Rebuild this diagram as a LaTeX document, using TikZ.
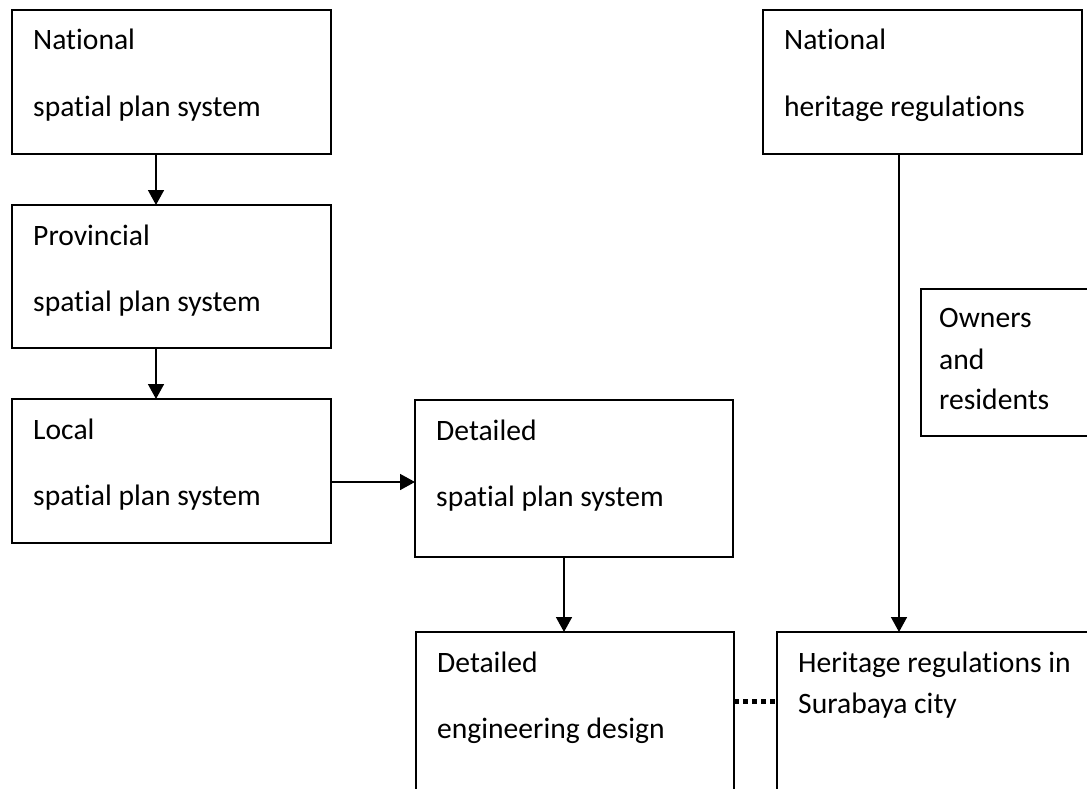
\documentclass[tikz,border=0pt]{standalone}
\usepackage{fontspec}
\setmainfont[Ligatures={NoCommon}]{Carlito}
\usetikzlibrary{arrows.meta}
\begin{document}
\begin{tikzpicture}[x=1pt,y=-1pt,
  box/.style={draw, line width=1.8pt, rectangle, inner sep=0pt, outer sep=0pt, anchor=north west},
  txt/.style={anchor=base west, inner sep=0pt, font=\fontsize{29.6}{35}\selectfont},
  arr/.style={line width=1.6pt, -{Triangle[length=15pt,width=16pt]}},
  dots/.style={line width=5pt, dash pattern=on 5pt off 4pt}]
\useasboundingbox (0,0) rectangle (1087,789);
\clip (0,0) rectangle (1087,789);

% planning chain
\node[box, minimum width=319pt, minimum height=144pt] (nsp) at (12,10) {};
\node[box, minimum width=319pt, minimum height=143pt] (psp) at (12,205) {};
\node[box, minimum width=319pt, minimum height=144pt] (lsp) at (12,399) {};
\node[box, minimum width=318pt, minimum height=157pt] (dsp) at (415,400) {};
\node[box, minimum width=318pt, minimum height=220pt] (ded) at (416,632) {};

% heritage side
\node[box, minimum width=319pt, minimum height=144pt] (nhr) at (763,10) {};
\node[box, minimum width=200pt, minimum height=147pt] (own) at (921,289) {};
\node[box, minimum width=340pt, minimum height=220pt] (hrs) at (777,632) {};

% labels
\node[txt] (nsp1) at ([xshift=21pt,yshift=-40pt]nsp.north west) {National};
\node[txt] (nsp2) at ([xshift=21pt,yshift=-107pt]nsp.north west) {spatial plan system};
\node[txt] (psp1) at ([xshift=21pt,yshift=-40pt]psp.north west) {Provincial};
\node[txt] (psp2) at ([xshift=21pt,yshift=-106pt]psp.north west) {spatial plan system};
\node[txt] (lsp1) at ([xshift=21pt,yshift=-40pt]lsp.north west) {Local};
\node[txt] (lsp2) at ([xshift=21pt,yshift=-106pt]lsp.north west) {spatial plan system};
\node[txt] (dsp1) at ([xshift=21pt,yshift=-40pt]dsp.north west) {Detailed};
\node[txt] (dsp2) at ([xshift=21pt,yshift=-106pt]dsp.north west) {spatial plan system};
\node[txt] (ded1) at ([xshift=21pt,yshift=-40pt]ded.north west) {Detailed};
\node[txt] (ded2) at ([xshift=21pt,yshift=-106pt]ded.north west) {engineering design};
\node[txt] (nhr1) at ([xshift=21pt,yshift=-40pt]nhr.north west) {National};
\node[txt] (nhr2) at ([xshift=21pt,yshift=-107pt]nhr.north west) {heritage regulations};
\node[txt] (own1) at ([xshift=18pt,yshift=-38pt]own.north west) {Owners};
\node[txt] (own2) at ([xshift=18pt,yshift=-80pt]own.north west) {and};
\node[txt] (own3) at ([xshift=18pt,yshift=-120pt]own.north west) {residents};
\node[txt] (hrs1) at ([xshift=21pt,yshift=-40pt]hrs.north west) {Heritage regulations in};
\node[txt] (hrs2) at ([xshift=21pt,yshift=-81pt]hrs.north west) {Surabaya city};

% connectors
\draw[arr] ([xshift=144pt]nsp.south west) -- ([xshift=144pt]psp.north west);
\draw[arr] ([xshift=144pt]psp.south west) -- ([xshift=144pt]lsp.north west);
\draw[arr] ([yshift=-11pt]lsp.east) -- ([yshift=-11pt]lsp.east -| dsp.west);
\draw[arr] ([xshift=149pt]dsp.south west) -- ([xshift=149pt]dsp.south west |- ded.north);
\draw[arr] ([xshift=136pt]nhr.south west) -- ([xshift=136pt]nhr.south west |- hrs.north);
\draw[dots] ([yshift=-69pt]ded.north east) -- ([yshift=-69pt]ded.north east -| hrs.west);
\end{tikzpicture}
\end{document}
